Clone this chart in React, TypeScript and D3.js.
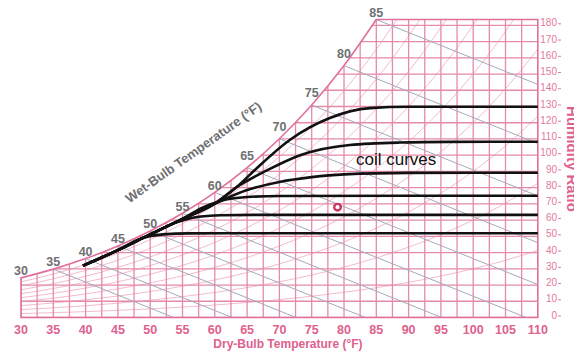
import React from "react";
import * as d3 from "d3";

// ---- data ----
const dryBulbTicks = [30, 35, 40, 45, 50, 55, 60, 65, 70, 75, 80, 85, 90, 95, 100, 105, 110];
const humidityTicks = [0, 10, 20, 30, 40, 50, 60, 70, 80, 90, 100, 110, 120, 130, 140, 150, 160, 170, 180];
const satTemps = [30, 35, 40, 45, 50, 55, 60, 65, 70, 75, 80, 85, 90, 95, 100, 105, 110];
const satW = [24.4, 29.8, 36.3, 44.1, 53.3, 64.2, 77.1, 92.3, 110.1, 130.9, 155.2, 183.6, 216.7, 255.3, 300.2, 352.5, 413.4];
const wetBulbLabels = [30, 35, 40, 45, 50, 55, 60, 65, 70, 75, 80, 85];
const wetBulbLines = [35, 40, 45, 50, 55, 60, 65, 70, 75, 80, 85];
const rhLevels = [0.1, 0.2, 0.3, 0.4, 0.5, 0.6, 0.7, 0.8, 0.9];
const coilA: [number, number][] = [[39.6, 31.9], [45, 41.5], [50, 51.2], [55, 60.7], [60, 70.2], [63.4, 80.4], [66.2, 90.9], [71.6, 109.4], [77.8, 122.9], [84, 129], [90, 129.8], [110, 129.8]];
const coilB: [number, number][] = [[39.6, 31.9], [45, 41.5], [50, 51.2], [55, 60.7], [60, 70.2], [63.4, 80.4], [68, 90.5], [73.2, 100], [80.9, 106.3], [88.7, 107.8], [96.4, 108.2], [110, 108.3]];
const coilC: [number, number][] = [[39.6, 31.9], [45, 41.5], [50, 51.2], [55, 60.7], [60, 70.2], [65, 78.5], [70, 83.5], [75, 86.5], [80, 88.2], [90, 89.1], [110, 89.2]];
const coilD: [number, number][] = [[39.6, 31.9], [45, 41.5], [50, 51.2], [55, 60.7], [58, 67.5], [61, 72], [65, 74.2], [70, 74.9], [110, 75]];
const coilE: [number, number][] = [[39.6, 31.9], [45, 41.5], [50, 51.2], [54, 58.5], [57, 61.8], [61, 63], [66, 63.2], [110, 63.2]];
const coilF: [number, number][] = [[39.6, 31.9], [45, 41.5], [48.5, 48.5], [52, 51.2], [56, 51.8], [62, 51.9], [110, 51.9]];
const coilCurves = [coilA, coilB, coilC, coilD, coilE, coilF];
const statePoint: [number, number] = [79, 68];

const W = 574;
const H = 353;

export default function App() {
  const x = d3.scaleLinear().domain([30, 110]).range([21, 537.8]);
  const y = d3.scaleLinear().domain([0, 183.6]).range([317.5, 19.5]);
  const topW = satW[satTemps.indexOf(85)];
  const satPts: [number, number][] = satTemps.map((t, i) => [t, satW[i]]);
  const satLow = satPts.filter((p) => p[0] <= 85);
  const line = d3
    .line<[number, number]>()
    .x((d) => x(d[0]))
    .y((d) => y(d[1]))
    .curve(d3.curveMonotoneX);
  const satPath = line(satLow) as string;
  const regionPath =
    satPath +
    `L${x(110)},${y(topW)}L${x(110)},${y(0)}L${x(30)},${y(0)}Z`;

  const wsat = (t: number) => {
    for (let i = 0; i < satTemps.length - 1; i++) {
      if (t >= satTemps[i] && t <= satTemps[i + 1]) {
        const f = (t - satTemps[i]) / (satTemps[i + 1] - satTemps[i]);
        return satW[i] * Math.pow(satW[i + 1] / satW[i], f);
      }
    }
    return satW[satW.length - 1];
  };

  const vGrid = d3.range(30, 110.01, 2.5);
  const hGrid = d3.range(0, 181, 10);
  const gridColor = "#e58aa8";
  const pink = "#e0709a";
  const labelPink = "#e0608e";
  const grey = "#6f6f72";
  const wbSlope = 1.6;

  const coilLine = d3
    .line<[number, number]>()
    .x((d) => x(d[0]))
    .y((d) => y(d[1]))
    .curve(d3.curveMonotoneX);

  const lift = (t: number) => (t >= 65 && t <= 80 ? 11 : 6);

  return (
    <svg
      width={W}
      height={H}
      style={{ position: "absolute", left: 0, top: 0, background: "#fff" }}
      fontFamily="Liberation Sans, Arial, sans-serif"
    >
      <defs>
        <clipPath id="region">
          <path d={regionPath} />
        </clipPath>
      </defs>
      <g clipPath="url(#region)">
        {rhLevels.map((rh) => (
          <path
            key={"rh" + rh}
            d={line(satPts.map((p) => [p[0], p[1] * rh] as [number, number])) as string}
            fill="none"
            stroke="#f1b3c7"
            strokeWidth={0.9}
          />
        ))}
        {vGrid.map((t) => (
          <line key={"v" + t} x1={x(t)} x2={x(t)} y1={y(0)} y2={y(topW)} stroke={gridColor} strokeWidth={1.3} />
        ))}
        {hGrid.map((w) => (
          <line key={"h" + w} x1={x(30)} x2={x(110)} y1={y(w)} y2={y(w)} stroke={gridColor} strokeWidth={1.3} />
        ))}
        {wetBulbLines.map((t) => {
          const ws = wsat(t);
          return (
            <line
              key={"wb" + t}
              x1={x(t)}
              y1={y(ws)}
              x2={x(t + ws / wbSlope)}
              y2={y(0)}
              stroke="#a4a9bd"
              strokeWidth={1}
            />
          );
        })}
      </g>
      <path d={regionPath} fill="none" stroke={pink} strokeWidth={1.6} />

      {coilCurves.map((c, i) => (
        <path key={"coil" + i} d={coilLine(c) as string} fill="none" stroke="#111" strokeWidth={2.6} />
      ))}

      <circle cx={x(statePoint[0])} cy={y(statePoint[1])} r={3.3} fill="#fff" stroke="#c8365f" strokeWidth={2.4} />

      <text x={356} y={165} fontSize={17} fill="#111">
        coil curves
      </text>

      {wetBulbLabels.map((t) => (
        <text
          key={"wbl" + t}
          x={x(t)}
          y={y(wsat(t)) - lift(t)}
          textAnchor="middle"
          dominantBaseline="middle"
          fontSize={12.5}
          fontWeight="bold"
          fill={grey}
        >
          {t}
        </text>
      ))}
      <text
        transform="translate(196,156) rotate(-35.5)"
        textAnchor="middle"
        fontSize={13}
        fontWeight="bold"
        fill={grey}
      >
        Wet-Bulb Temperature (°F)
      </text>

      {dryBulbTicks.map((t) => (
        <text key={"xt" + t} x={x(t)} y={333.5} textAnchor="middle" fontSize={12.5} fontWeight="bold" fill={labelPink}>
          {t}
        </text>
      ))}
      <text x={288} y={347.5} textAnchor="middle" fontSize={12} fontWeight="bold" fill={labelPink}>
        Dry-Bulb Temperature (°F)
      </text>

      {humidityTicks.map((w) => (
        <g key={"yt" + w}>
          <text x={557} y={y(w) - 1.5} textAnchor="end" dominantBaseline="middle" fontSize={10} fill="#e3789e">
            {w}
          </text>
          <line x1={558} x2={561} y1={y(w) - 1.5} y2={y(w) - 1.5} stroke="#e3789e" strokeWidth={1} />
        </g>
      ))}
      <text
        transform="translate(567,159) rotate(90)"
        textAnchor="middle"
        fontSize={15}
        fontWeight="bold"
        fill={labelPink}
      >
        Humidity Ratio
      </text>
    </svg>
  );
}
